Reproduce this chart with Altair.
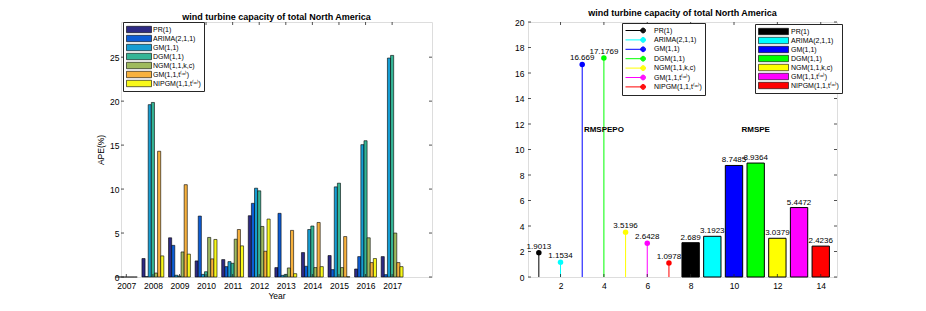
import altair as alt
import pandas as pd

FONT = "Liberation Sans"
TITLE = "wind turbine capacity of total North America"

# ---------------- data: left panel (APE %) ----------------
models = ["PR(1)", "ARIMA(2,1,1)", "GM(1,1)", "DGM(1,1)", "NGM(1,1,k,c)",
          "GM(1,1,t⁽ᵅ⁾)", "NIPGM(1,1,t⁽ᵅ⁾)"]
years = [2007, 2008, 2009, 2010, 2011, 2012, 2013, 2014, 2015, 2016, 2017]
ape_pr = [0, 2.1, 4.46, 1.83, 1.98, 6.97, 1.07, 2.78, 2.44, 0.91, 2.32]
ape_arima = [0, 0.05, 3.6, 6.93, 1.18, 8.38, 7.24, 1.22, 0.84, 2.32, 0.27]
ape_gm = [0, 19.6, 0.2, 0.3, 1.75, 10.1, 0.19, 5.4, 10.25, 15.05, 24.9]
ape_dgm = [0, 19.85, 0.1, 0.6, 1.56, 9.8, 0.3, 5.8, 10.67, 15.5, 25.2]
ape_ngm = [0, 0.45, 2.85, 4.5, 4.3, 5.75, 1.03, 1.07, 1.07, 4.46, 5.0]
ape_gmt = [0, 14.3, 10.5, 2.06, 5.4, 2.93, 5.3, 6.2, 4.6, 1.64, 1.64]
ape_nipgm = [0, 2.4, 2.6, 4.27, 3.54, 6.59, 0.38, 1.18, 0.03, 2.1, 1.18]
left_colors = ["#2d2a84", "#0c5dd6", "#169dd3", "#35b596", "#9fba5e", "#f7b13d", "#f8f81a"]
left_yticks = [0, 5, 10, 15, 20, 25]

# ---------------- data: right panel (RMSPEPO / RMSPE) ----------------
stem_pos = [1, 2, 3, 4, 5, 6, 7]
stem_values = [1.9013, 1.1534, 16.669, 17.1769, 3.5196, 2.6428, 1.0978]
bar_pos = [8, 9, 10, 11, 12, 13, 14]
bar_values = [2.689, 3.1923, 8.7485, 8.9364, 3.0379, 5.4472, 2.4236]
right_colors = ["#000000", "#00ffff", "#0000ff", "#00ff00", "#ffff00", "#ff00ff", "#ff0000"]
annot_text = ["RMSPEPO", "RMSPE"]
annot_x = [4, 11]
annot_y = [11.5, 11.5]
right_xticks = [2, 4, 6, 8, 10, 12, 14]
right_yticks = [0, 2, 4, 6, 8, 10, 12, 14, 16, 18, 20]

# ---------------- tables ----------------
series = [ape_pr, ape_arima, ape_gm, ape_dgm, ape_ngm, ape_gmt, ape_nipgm]
rows = []
for i, (m, vals) in enumerate(zip(models, series)):
    for y, v in zip(years, vals):
        rows.append({"year": y, "model": m, "idx": i, "ape": v})
left_df = pd.DataFrame(rows)
stem_df = pd.DataFrame({"pos": stem_pos, "val": stem_values, "smodel": models})
bar_df = pd.DataFrame({"pos": bar_pos, "val": bar_values, "bmodel": models})
annot_df = pd.DataFrame({"pos": annot_x, "val": annot_y, "t": annot_text})

LW, LH = 311, 255
RW, RH = 309, 255
AX = "#262626"
TICKF = 8.5
LEGF = 7
ROWPAD = 0.4

lx_scale = alt.Scale(domain=[2006.8, 2018.5], nice=False, zero=False)
ly_scale = alt.Scale(domain=[0, 29], nice=False)
lx_axis = alt.Axis(values=years, format="d", title="Year", ticks=False,
                   domain=False, grid=False, labelFontSize=TICKF, labelPadding=4,
                   titleFontSize=8.5, titleFontWeight="normal", titlePadding=2)
ly_axis = alt.Axis(values=left_yticks, title="APE(%)", ticks=False, domain=False,
                   grid=False, labelFontSize=TICKF, labelPadding=2,
                   titleFontSize=8.5, titleFontWeight="normal", titlePadding=4)

rect_path = "M-1,-0.8H5.25V0.8H-1Z"

bars_left = alt.Chart(left_df).transform_calculate(
    x0="datum.year - 0.4118 + datum.idx * 0.1176",
    x1="datum.year - 0.4118 + (datum.idx + 1) * 0.1176",
    zero="0",
).mark_bar(stroke="black", strokeWidth=0.6).encode(
    x=alt.X("x0:Q", scale=lx_scale, axis=lx_axis),
    x2="x1:Q",
    y=alt.Y("ape:Q", scale=ly_scale, axis=ly_axis),
    y2="zero:Q",
    fill=alt.Fill("model:N", scale=alt.Scale(domain=models, range=left_colors),
                  sort=models,
                  legend=alt.Legend(orient="none", legendX=2, legendY=0, title=None,
                                    symbolType=rect_path, symbolSize=64,
                                    symbolStrokeColor="black", symbolStrokeWidth=0.6,
                                    labelOffset=18, labelFontSize=LEGF, labelFont=FONT,
                                    rowPadding=0, padding=3, strokeColor=AX,
                                    fillColor="white", labelColor="black")),
)

ytick_df_l = pd.DataFrame({"v": left_yticks})
xtick_df_l = pd.DataFrame({"v": years})
lt1 = alt.Chart(ytick_df_l).mark_rule(color=AX, strokeWidth=0.8).encode(
    y=alt.Y("v:Q", scale=ly_scale, axis=ly_axis), x=alt.value(0), x2=alt.value(3))
lt2 = alt.Chart(ytick_df_l).mark_rule(color=AX, strokeWidth=0.8).encode(
    y=alt.Y("v:Q", scale=ly_scale, axis=ly_axis), x=alt.value(LW - 3), x2=alt.value(LW))
lt3 = alt.Chart(xtick_df_l).mark_rule(color=AX, strokeWidth=0.8).encode(
    x=alt.X("v:Q", scale=lx_scale, axis=lx_axis), y=alt.value(LH), y2=alt.value(LH - 3))
lt4 = alt.Chart(xtick_df_l).mark_rule(color=AX, strokeWidth=0.8).encode(
    x=alt.X("v:Q", scale=lx_scale, axis=lx_axis), y=alt.value(0), y2=alt.value(3))

title_params = alt.TitleParams(TITLE, fontSize=9, fontWeight="bold", font=FONT, offset=0,
                               color="black")

left = alt.layer(bars_left, lt1, lt2, lt3, lt4).properties(
    width=LW, height=LH, title=title_params)

# ---------------- right panel ----------------
rx_scale = alt.Scale(domain=[0.5, 14.75], nice=False, zero=False)
ry_scale = alt.Scale(domain=[0, 20], nice=False)
rx_axis = alt.Axis(values=right_xticks, title=None, ticks=False, domain=False,
                   grid=False, labelFontSize=TICKF, labelPadding=4)
ry_axis = alt.Axis(values=right_yticks, title=None, ticks=False, domain=False,
                   grid=False, labelFontSize=TICKF, labelPadding=4)

rings = "".join(
    f" M3.4,0m-{r},0a{r},{r} 0 1,0 {2*r},0a{r},{r} 0 1,0 -{2*r},0"
    for r in (0.12, 0.24, 0.36, 0.48, 0.6))
stem_path = "M-1,0H3.2" + rings
bar_rect_path = "M-1,-0.8H6.5V0.8H-1Z"


def rx(field="pos:Q"):
    return alt.X(field, scale=rx_scale, axis=rx_axis)


def ry(field="val:Q"):
    return alt.Y(field, scale=ry_scale, axis=ry_axis)


stems = alt.Chart(stem_df).transform_calculate(zero="0").mark_rule(strokeWidth=1).encode(
    x=rx(), y=ry(), y2="zero:Q",
    stroke=alt.Stroke("smodel:N", scale=alt.Scale(domain=models, range=right_colors),
                      sort=models,
                      legend=alt.Legend(orient="none", legendX=94, legendY=1, title=None,
                                        symbolType=stem_path, symbolSize=64,
                                        symbolStrokeWidth=1, labelOffset=20,
                                        labelFontSize=LEGF, labelFont=FONT,
                                        rowPadding=ROWPAD, padding=3, strokeColor=AX,
                                        fillColor="white", labelColor="black")),
)
dots = alt.Chart(stem_df).mark_circle(size=30, opacity=1).encode(
    x=rx(), y=ry(),
    color=alt.Color("smodel:N", scale=alt.Scale(domain=models, range=right_colors),
                    legend=None),
)
dot_labels = alt.Chart(stem_df).mark_text(fontSize=8, font=FONT, dy=-2, baseline="bottom",
                                          align="center", color="black").encode(
    x=rx(), y=ry(), text=alt.Text("val:Q"),
)
bars_right = alt.Chart(bar_df).transform_calculate(
    x0="datum.pos - 0.4", x1="datum.pos + 0.4", zero="0"
).mark_bar(stroke="black", strokeWidth=1).encode(
    x=rx("x0:Q"), x2="x1:Q",
    y=ry(), y2="zero:Q",
    fill=alt.Fill("bmodel:N", scale=alt.Scale(range=right_colors),
                  sort=models,
                  legend=alt.Legend(orient="none", legendX=227, legendY=2, title=None,
                                    symbolType=bar_rect_path, symbolSize=64,
                                    symbolStrokeColor="black", symbolStrokeWidth=0.6,
                                    labelOffset=24, labelFontSize=LEGF, labelFont=FONT,
                                    rowPadding=0, padding=3, strokeColor=AX,
                                    fillColor="white", labelColor="black")),
)
bar_labels = alt.Chart(bar_df).mark_text(fontSize=8, font=FONT, dy=-1, baseline="bottom",
                                         align="center", color="black").encode(
    x=rx(), y=ry(), text=alt.Text("val:Q"),
)
annots = alt.Chart(annot_df).mark_text(fontSize=8, font=FONT, fontWeight="bold",
                                       align="center", baseline="middle",
                                       color="black").encode(
    x=rx(), y=ry(), text="t:N")

ytick_df_r = pd.DataFrame({"v": right_yticks})
xtick_df_r = pd.DataFrame({"v": right_xticks})
rt1 = alt.Chart(ytick_df_r).mark_rule(color=AX, strokeWidth=0.8).encode(
    y=ry("v:Q"), x=alt.value(0), x2=alt.value(3))
rt2 = alt.Chart(ytick_df_r).mark_rule(color=AX, strokeWidth=0.8).encode(
    y=ry("v:Q"), x=alt.value(RW - 3), x2=alt.value(RW))
rt3 = alt.Chart(xtick_df_r).mark_rule(color=AX, strokeWidth=0.8).encode(
    x=rx("v:Q"), y=alt.value(RH), y2=alt.value(RH - 3))
rt4 = alt.Chart(xtick_df_r).mark_rule(color=AX, strokeWidth=0.8).encode(
    x=rx("v:Q"), y=alt.value(0), y2=alt.value(3))

right = alt.layer(stems, dots, dot_labels, bars_right, bar_labels, annots,
                  rt1, rt2, rt3, rt4).resolve_scale(color="independent").properties(
    width=RW, height=RH, title=title_params)

chart = alt.hconcat(left, right, spacing=81).resolve_scale(
    color="independent", fill="independent", stroke="independent"
).properties(
    padding={"left": 88, "top": 0, "right": 5, "bottom": 0}
).configure_view(stroke=AX, strokeWidth=1).configure_axis(
    labelFont=FONT, titleFont=FONT, labelColor=AX, titleColor=AX
).configure(background="white")

chart.save("out.html", embed_options={"renderer": "svg", "actions": False})
